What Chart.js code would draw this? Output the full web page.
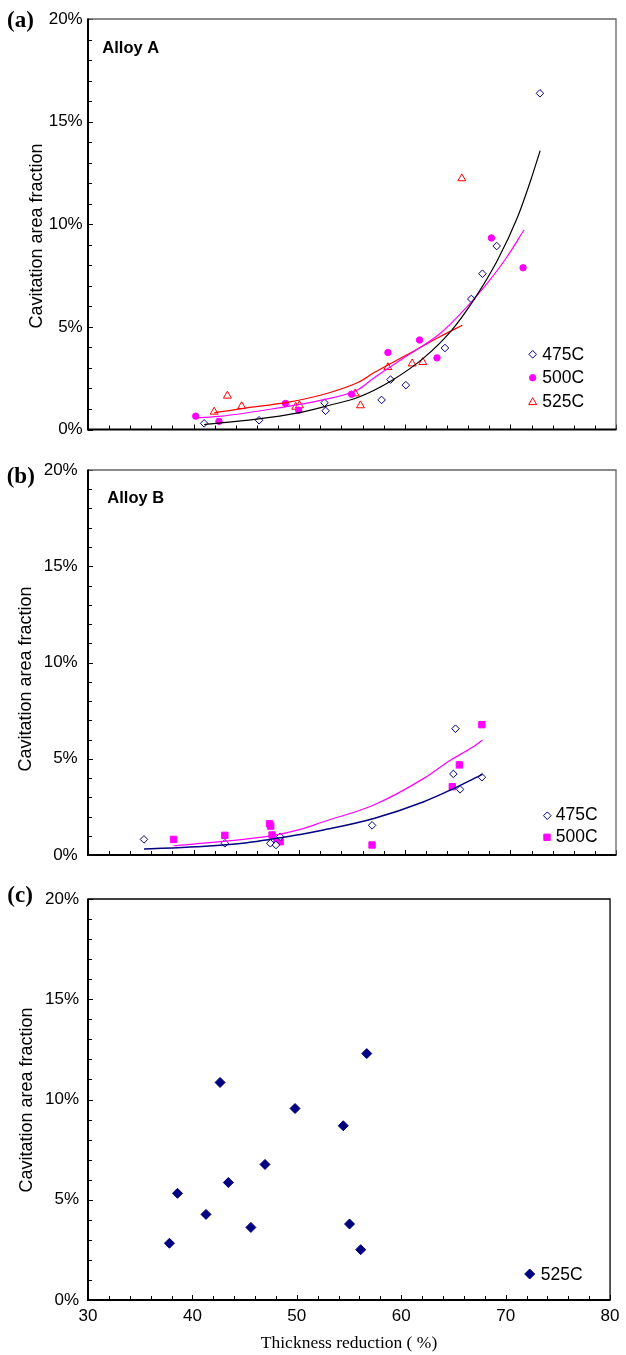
<!DOCTYPE html>
<html lang="en">
<head>
    <meta charset="UTF-8">
    <title>Cavitation area fraction vs thickness reduction</title>
    <script src="https://cdn.jsdelivr.net/npm/chart.js"></script>
    <style>
        body { margin: 0; background: #fff; }
        .panel { position: absolute; left: 0; width: 626px; }
    </style>
</head>
<body>
    <div class="panel" style="top:0px"><canvas id="chartA" width="626" height="445"></canvas></div>
    <div class="panel" style="top:445px"><canvas id="chartB" width="626" height="440"></canvas></div>
    <div class="panel" style="top:860px"><canvas id="chartC" width="626" height="495"></canvas></div>

    <script>
        // axis ticks
        const xTicks = [30, 40, 50, 60, 70, 80];
        const yTicks = [0, 5, 10, 15, 20];

        // (a) Alloy A - measured points
        const a475x = [41.0, 46.2, 52.4, 52.5, 57.8, 58.65, 60.1, 63.8, 66.3, 67.35, 68.7, 72.8];
        const a475y = [0.3, 0.45, 1.3, 0.91, 1.44, 2.43, 2.16, 3.97, 6.36, 7.59, 8.94, 16.38];
        const a500x = [40.2, 42.4, 48.7, 49.95, 54.95, 58.4, 61.4, 63.05, 68.2, 71.2];
        const a500y = [0.65, 0.4, 1.27, 0.94, 1.72, 3.75, 4.36, 3.49, 9.33, 7.88];
        const a525x = [41.95, 43.2, 44.55, 49.67, 50.02, 55.3, 55.8, 58.4, 60.7, 61.7, 65.4];
        const a525y = [0.86, 1.64, 1.13, 1.1, 1.17, 1.75, 1.17, 3.03, 3.21, 3.28, 12.23];

        // (a) trend curves
        const a475fitX = [41.0, 45.8, 49.9, 52.8, 55.6, 58.65, 61.8, 64.35, 66.55, 68.8, 70.7, 71.94, 72.82];
        const a475fitY = [0.24, 0.49, 0.81, 1.17, 1.57, 2.35, 3.49, 4.78, 6.33, 8.27, 10.38, 12.17, 13.59];
        const a500fitX = [40.27, 42.65, 47.4, 52.1, 55.6, 57.07, 60.24, 63.4, 65.93, 67.83, 69.7, 71.3];
        const a500fitY = [0.57, 0.65, 1.0, 1.43, 1.95, 2.51, 3.6, 4.7, 6.0, 7.14, 8.43, 9.73];
        const a525fitX = [41.95, 44.55, 48.97, 52.77, 55.6, 57.07, 60.24, 63.4, 65.45];
        const a525fitY = [0.81, 1.02, 1.33, 1.78, 2.3, 2.76, 3.65, 4.54, 5.08];

        // (b) Alloy B
        const b475x = [35.3, 42.96, 47.27, 47.8, 48.2, 56.9, 64.6, 64.8, 65.23, 67.3];
        const b475y = [0.81, 0.61, 0.61, 0.52, 0.95, 1.54, 4.21, 6.56, 3.41, 4.04];
        const b500x = [38.1, 42.96, 47.2, 47.3, 47.43, 47.9, 48.2, 56.9, 64.5, 65.17, 67.3];
        const b500y = [0.81, 1.02, 1.62, 1.5, 1.04, 0.69, 0.69, 0.52, 3.55, 4.68, 6.77];
        const b475fitX = [35.3, 40.3, 45.06, 50.1, 52.3, 57.07, 61.8, 64.35, 67.35];
        const b475fitY = [0.31, 0.43, 0.64, 1.07, 1.3, 1.9, 2.77, 3.38, 4.19];
        const b500fitX = [38.1, 42.85, 47.3, 50.1, 52.3, 57.07, 61.8, 64.35, 66.25, 67.35];
        const b500fitY = [0.48, 0.71, 0.99, 1.33, 1.73, 2.6, 3.98, 4.94, 5.54, 5.97];

        // (c) 525C
        const c525x = [37.8, 38.57, 41.3, 42.65, 43.44, 45.6, 46.95, 49.83, 54.45, 55.05, 56.12, 56.7];
        const c525y = [2.83, 5.32, 4.27, 10.85, 5.86, 3.62, 6.76, 9.55, 8.69, 3.79, 2.51, 12.29];

        const SANS = '"Liberation Sans", Arial, sans-serif';
        const SERIF = '"Liberation Serif", "Times New Roman", serif';

        const pairs = (xs, ys) => xs.map((x, i) => ({ x: x, y: ys[i] }));

        function points(label, xs, ys, style, r, fill, stroke) {
            return {
                label: label, data: pairs(xs, ys), showLine: false,
                pointStyle: style, pointRadius: r, pointHoverRadius: r,
                pointBackgroundColor: fill, pointBorderColor: stroke, pointBorderWidth: 1
            };
        }
        function curve(xs, ys, color, w) {
            return {
                data: pairs(xs, ys), showLine: true, pointRadius: 0, borderColor: color,
                borderWidth: w, cubicInterpolationMode: 'monotone', fill: false
            };
        }

        // small marker painter for the legends
        function marker(ctx, style, x, y, r, fill, stroke) {
            ctx.beginPath();
            if (style === 'circle') {
                ctx.arc(x, y, r, 0, Math.PI * 2);
            } else if (style === 'rectRot') {
                ctx.moveTo(x - r, y); ctx.lineTo(x, y - r); ctx.lineTo(x + r, y); ctx.lineTo(x, y + r);
                ctx.closePath();
            } else if (style === 'rect') {
                const s = r * Math.SQRT1_2;
                ctx.rect(x - s, y - s, 2 * s, 2 * s);
            } else if (style === 'triangle') {
                ctx.moveTo(x, y - r);
                ctx.lineTo(x + r * 0.866, y + r * 0.5);
                ctx.lineTo(x - r * 0.866, y + r * 0.5);
                ctx.closePath();
            }
            ctx.fillStyle = fill; ctx.fill();
            ctx.strokeStyle = stroke; ctx.lineWidth = 1; ctx.stroke();
        }

        // inside tick marks, frame, panel letters, y title and legend
        const deco = {
            id: 'deco',
            afterDraw(chart, args, o) {
                const ctx = chart.ctx;
                const { left, right, top, bottom } = chart.chartArea;
                const xs = chart.scales.x, ys = chart.scales.y;
                ctx.save();
                ctx.strokeStyle = '#000';
                ctx.lineWidth = 1;
                for (let v = 0; v <= 20; v++) {
                    const py = Math.round(ys.getPixelForValue(v)) + 0.5;
                    const len = v % 5 === 0 ? 5 : 4;
                    ctx.beginPath(); ctx.moveTo(left, py); ctx.lineTo(left + len, py); ctx.stroke();
                }
                for (let v = 30; v <= 80; v += 2) {
                    const px = Math.round(xs.getPixelForValue(v)) + 0.5;
                    const len = v % 10 === 0 ? 5 : 4;
                    ctx.beginPath(); ctx.moveTo(px, bottom); ctx.lineTo(px, bottom - len); ctx.stroke();
                }
                // frame
                ctx.strokeStyle = o.frame;
                ctx.lineWidth = 1.3;
                ctx.beginPath(); ctx.moveTo(left, top); ctx.lineTo(right, top); ctx.lineTo(right, bottom); ctx.stroke();
                ctx.strokeStyle = '#000';
                ctx.lineWidth = 2;
                ctx.beginPath(); ctx.moveTo(left, top - 0.5); ctx.lineTo(left, bottom); ctx.lineTo(right + 0.5, bottom); ctx.stroke();

                ctx.fillStyle = '#000';
                ctx.textBaseline = 'alphabetic';
                ctx.textAlign = 'left';
                ctx.font = 'bold 23px ' + SERIF;
                ctx.fillText(o.letter, o.letterX, o.letterY);
                if (o.alloy) {
                    ctx.font = 'bold 16.5px ' + SANS;
                    ctx.fillText(o.alloy, o.alloyX, o.alloyY);
                }
                // rotated y title
                ctx.save();
                ctx.translate(o.titleX, o.titleY);
                ctx.rotate(-Math.PI / 2);
                ctx.textAlign = 'center';
                ctx.textBaseline = 'middle';
                ctx.font = '18px ' + SANS;
                ctx.fillText('Cavitation area fraction', 0, 0);
                ctx.restore();
                // legend
                ctx.font = '17.5px ' + SANS;
                o.legend.forEach(it => {
                    const ds = chart.data.datasets[it.ds];
                    marker(ctx, ds.pointStyle, it.mx, it.my, ds.pointRadius, ds.pointBackgroundColor, ds.pointBorderColor);
                    ctx.fillStyle = '#000';
                    ctx.fillText(ds.label, it.tx, it.ty);
                });
                ctx.restore();
            }
        };

        function yAxis(pad) {
            return {
                min: 0, max: 20,
                afterBuildTicks: s => { s.ticks = yTicks.map(v => ({ value: v })); },
                afterFit: s => { s.width = 88; },
                ticks: { callback: v => v + '%', color: '#000', font: { family: SANS, size: 17 }, padding: pad },
                grid: { display: false, drawTicks: false },
                border: { display: false }
            };
        }

        function build(id, datasets, padding, yPad, xAxis, deco_opts) {
            return new Chart(document.getElementById(id), {
                type: 'scatter',
                data: { datasets: datasets },
                options: {
                    responsive: false,
                    animation: false,
                    layout: { padding: padding },
                    plugins: { legend: { display: false }, tooltip: { enabled: false }, deco: deco_opts },
                    scales: { x: xAxis, y: yAxis(yPad) }
                },
                plugins: [deco]
            });
        }

        const hiddenX = { type: 'linear', min: 30, max: 80, display: false };

        // (a)
        build('chartA', [
            curve(a475fitX, a475fitY, '#000000', 1.2),
            curve(a500fitX, a500fitY, '#ff00ff', 1.2),
            curve(a525fitX, a525fitY, '#ff0000', 1.2),
            points('475C', a475x, a475y, 'rectRot', 3.8, '#ffffff', '#000080'),
            points('500C', a500x, a500y, 'circle', 3.2, '#ff00ff', '#ff00ff'),
            points('525C', a525x, a525y, 'triangle', 4.6, '#ffffff', '#ff0000')
        ], { top: 19, right: 10, bottom: 15, left: 0 }, 5.3, hiddenX, {
            frame: '#666', letter: '(a)', letterX: 7, letterY: 26.5,
            alloy: 'Alloy A', alloyX: 102.3, alloyY: 52.7,
            titleX: 37, titleY: 236,
            legend: [
                { ds: 3, mx: 532.7, my: 354.3, tx: 542.3, ty: 360 },
                { ds: 4, mx: 532.7, my: 377.7, tx: 542.3, ty: 383.3 },
                { ds: 5, mx: 532.7, my: 402.3, tx: 542.3, ty: 406.7 }
            ]
        });

        // (b) - canvas runs past the panel bottom so the axis sits at 855
        build('chartB', [
            curve(b475fitX, b475fitY, '#000080', 1.5),
            curve(b500fitX, b500fitY, '#ff00ff', 1.2),
            points('475C', b475x, b475y, 'rectRot', 3.8, '#ffffff', '#000080'),
            points('500C', b500x, b500y, 'rect', 4.5, '#ff00ff', '#ff00ff')
        ], { top: 25, right: 10, bottom: 30, left: 0 }, 10.3, hiddenX, {
            frame: '#666', letter: '(b)', letterX: 6.7, letterY: 37.5,
            alloy: 'Alloy B', alloyX: 107.3, alloyY: 57.7,
            titleX: 26, titleY: 234,
            legend: [
                { ds: 2, mx: 547.3, my: 370.7, tx: 555.7, ty: 375 },
                { ds: 3, mx: 547, my: 392.3, tx: 555.7, ty: 396.7 }
            ]
        });

        // (c)
        build('chartC', [
            points('525C', c525x, c525y, 'rectRot', 5, '#000080', '#000080')
        ], { top: 39, right: 11, bottom: 0, left: 0 }, 9, {
            type: 'linear', min: 30, max: 80,
            afterBuildTicks: s => { s.ticks = xTicks.map(v => ({ value: v })); },
            afterFit: s => { s.height = 55; },
            ticks: { color: '#000', font: { family: SANS, size: 17 }, padding: 6.5, maxRotation: 0 },
            grid: { display: false, drawTicks: false },
            border: { display: false },
            title: { display: true, text: 'Thickness reduction ( %)', color: '#000',
                     font: { family: SERIF, size: 17.5 }, padding: { top: 0, bottom: 1.2 } }
        }, {
            frame: '#000', letter: '(c)', letterX: 7.3, letterY: 41.7,
            titleX: 26.7, titleY: 240,
            legend: [
                { ds: 0, mx: 529.7, my: 414, tx: 540.7, ty: 420 }
            ]
        });
    </script>
</body>
</html>
